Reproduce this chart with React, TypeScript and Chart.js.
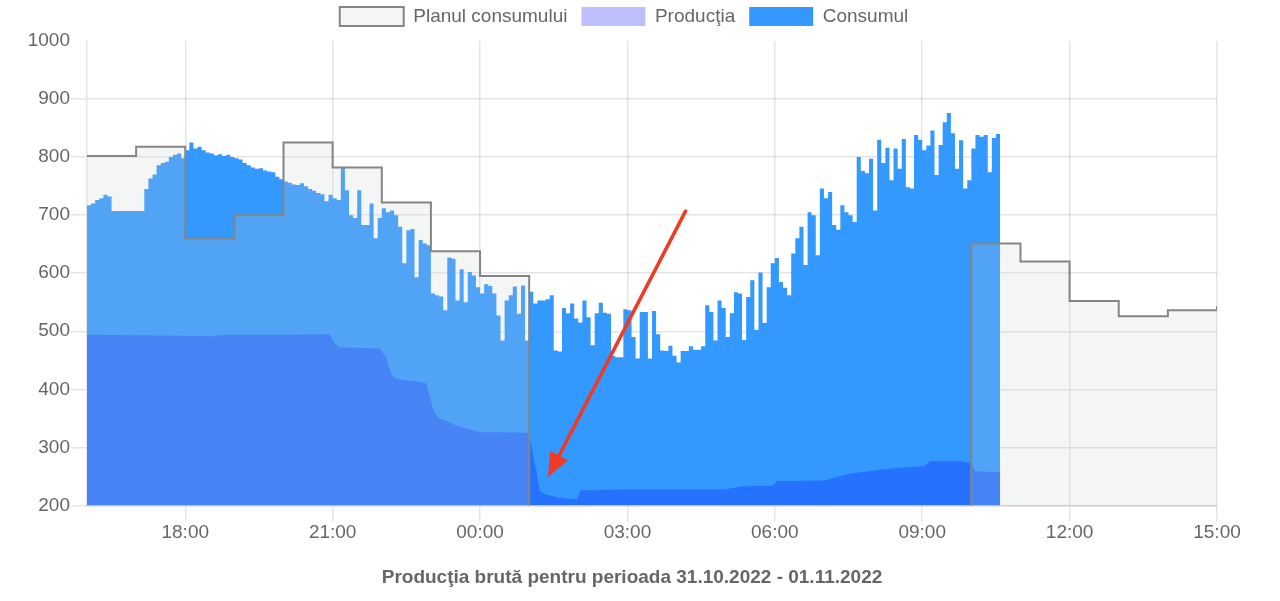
import { useEffect, useRef } from "react";
import { Chart, registerables } from "chart.js";

Chart.register(...registerables);

// Time axis: minutes elapsed since 31.10.2022 16:00
const START_HOUR = 16;
const AXIS_END_MIN = 1380; // 01.11.2022 15:00
const CONS_STEP_MIN = 5;

// Consumption, one value per 5 minutes starting at 16:00
const consumption = [
  717, 720, 726, 729, 735, 732, 707, 707, 707, 707, 707, 707, 707, 707, 745, 763, 770, 786, 790, 792, 800, 804, 806, 798,
  812, 825, 815, 818, 812, 808, 806, 803, 805, 802, 804, 800, 798, 796, 790, 786, 782, 780, 781, 777, 775, 774, 766, 762,
  758, 756, 753, 752, 755, 750, 745, 742, 738, 736, 724, 735,
  729, 726, 783, 743, 700, 695, 743, 683, 683, 720, 660, 695, 712, 705, 708, 700, 680, 617, 674, 676,
  593, 657, 651, 648, 565, 562, 560, 536, 627, 625, 553, 607, 550, 602, 596, 576, 565, 581, 578, 565,
  527, 484, 553, 562, 577, 530, 579, 484,
  568, 548, 553, 553, 555, 562, 467, 465, 540, 531, 548, 522, 515, 553, 524, 476, 531, 549, 532, 530,
  458, 455, 455, 538, 536, 490, 453, 533, 533, 453, 535, 495, 467, 466, 475, 458, 446, 466, 466, 474,
  468, 468, 474, 545, 533, 484, 553, 540, 490, 531, 567, 565, 485, 559, 588, 502, 601, 514, 576, 617,
  626, 585, 575, 562, 634, 660, 680, 614, 705, 700, 631, 746, 729, 740, 683, 675, 717, 705, 700, 688,
  800, 776, 772, 797, 708, 830, 790, 816, 760, 815, 780, 831, 748, 746, 838, 830, 812, 820, 846, 769,
  821, 860, 876, 841, 780, 829, 746, 760, 815, 838, 835, 838, 774, 833, 840, 745,
];

// Hourly consumption plan from 16:00 to 15:00 (0 = no plan)
const planValues = [
  802, 818, 660, 700, 825, 782, 722, 638, 595, 0, 0, 0, 0, 0, 0, 0, 0, 0, 651, 620, 552, 526, 536, 543,
];

// Gross production (minutes since 16:00, value)
const prodTimes = [
  0, 60, 138, 150, 170, 240, 296, 302, 308, 340, 358, 365, 372, 378, 400, 414, 418, 424, 430, 440,
  450, 470, 480, 510, 539, 543, 548, 553, 560, 575, 598, 603, 670, 780, 800, 838, 843, 900, 932, 990,
  1022, 1030, 1069, 1079, 1085, 1115,
];
const prodValues = [
  494, 493, 492, 491, 494, 494, 495, 480, 472, 471, 470, 455, 425, 418, 414, 411, 390, 360, 350, 345,
  338, 330, 326, 326, 325, 300, 265, 225, 219, 214, 210, 226, 228, 228, 233, 234, 242, 243, 255, 265,
  268, 276, 276, 273, 259, 257,
];

// x tick positions (minutes since 16:00): 18:00, 21:00, ... 15:00
const xTickValues = [120, 300, 480, 660, 840, 1020, 1200, 1380];

// Annotation arrow (data coordinates: minutes, value)
const arrowFrom = { t: 731, v: 707 };
const arrowTo = { t: 563, v: 249 };

const FONT = "'Liberation Sans', Arial, Helvetica, sans-serif";
const TEXT = "#666";
const GRID = "rgba(0,0,0,0.1)";

const arrowPlugin = {
  id: "redArrow",
  afterDatasetsDraw(chart: any) {
    const { ctx } = chart;
    const xs = chart.scales.x;
    const ys = chart.scales.y;
    const x1 = xs.getPixelForValue(arrowFrom.t);
    const y1 = ys.getPixelForValue(arrowFrom.v);
    const x2 = xs.getPixelForValue(arrowTo.t);
    const y2 = ys.getPixelForValue(arrowTo.v);
    const ang = Math.atan2(y2 - y1, x2 - x1);
    const headLen = 24;
    const headW = 10;
    const bx = x2 - headLen * Math.cos(ang);
    const by = y2 - headLen * Math.sin(ang);
    ctx.save();
    ctx.strokeStyle = "#ef3a24";
    ctx.fillStyle = "#ef3a24";
    ctx.lineWidth = 3.5;
    ctx.lineCap = "round";
    ctx.beginPath();
    ctx.moveTo(x1, y1);
    ctx.lineTo(bx, by);
    ctx.stroke();
    ctx.beginPath();
    ctx.moveTo(x2, y2);
    ctx.lineTo(bx + headW * Math.sin(ang), by - headW * Math.cos(ang));
    ctx.lineTo(bx - headW * Math.sin(ang), by + headW * Math.cos(ang));
    ctx.closePath();
    ctx.fill();
    ctx.restore();
  },
};

const legendSpacer = {
  id: "legendSpacer",
  beforeInit(chart: any) {
    const legend = chart.legend;
    if (!legend) return;
    const orig = legend.fit;
    legend.fit = function () {
      orig.call(this);
      this.height += 5;
    };
  },
  afterLayout(chart: any) {
    // centre the title and legend like the original page
    if (chart.titleBlock) chart.titleBlock.left = 47;
    if (chart.legend) chart.legend.left = 31;
  },
};

export default function App() {
  const ref = useRef<HTMLCanvasElement | null>(null);

  useEffect(() => {
    if (!ref.current) return;
    const consData = consumption.map((v, i) => ({ x: i * CONS_STEP_MIN, y: v }));
    const planData = planValues.map((v, i) => ({ x: i * 60, y: v }));
    const prodData = prodTimes.map((t, i) => ({ x: t, y: prodValues[i] }));

    const chart = new Chart(ref.current, {
      type: "line",
      data: {
        datasets: [
          {
            label: "Planul consumului",
            data: planData,
            stepped: true,
            borderColor: "#858585",
            borderWidth: 2,
            backgroundColor: "rgba(201,203,207,0.2)",
            fill: "origin",
            pointRadius: 0,
          },
          {
            label: "Producţia",
            data: prodData,
            borderWidth: 0,
            borderColor: "rgba(0,0,255,0.25)",
            backgroundColor: "rgba(0,0,255,0.25)",
            fill: "origin",
            pointRadius: 0,
            tension: 0,
          },
          {
            label: "Consumul",
            data: consData,
            stepped: true,
            borderWidth: 0,
            borderColor: "#3399ff",
            backgroundColor: "#3399ff",
            fill: "origin",
            pointRadius: 0,
          },
        ],
      },
      options: {
        animation: false,
        responsive: false,
        devicePixelRatio: 1,
        layout: { padding: { left: 0, right: 63, top: -7, bottom: 0 } },
        plugins: {
          legend: {
            position: "top",
            labels: {
              boxWidth: 64,
              boxHeight: 19,
              padding: 14,
              color: TEXT,
              font: { size: 19, family: FONT },
            },
          },
          title: {
            display: true,
            position: "bottom",
            text: "Producţia brută pentru perioada 31.10.2022 - 01.11.2022",
            color: TEXT,
            font: { size: 19, weight: "bold", family: FONT },
            padding: { top: 22, bottom: 12 },
          },
          tooltip: { enabled: false },
        },
        scales: {
          x: {
            type: "linear",
            min: 0,
            max: AXIS_END_MIN,
            afterBuildTicks: (axis: any) => {
              axis.ticks = xTickValues.map((v) => ({ value: v }));
            },
            ticks: {
              autoSkip: false,
              maxRotation: 0,
              padding: 0,
              color: TEXT,
              font: { size: 19, family: FONT },
              callback: (v: any) => {
                const h = (START_HOUR + Math.round(Number(v) / 60)) % 24;
                return String(h).padStart(2, "0") + ":00";
              },
            },
            grid: { color: GRID, lineWidth: 1.5, tickLength: 16 },
            border: { color: GRID, width: 1.5 },
          },
          y: {
            min: 200,
            max: 1000,
            afterFit: (s: any) => {
              s.width = 87;
            },
            ticks: {
              stepSize: 100,
              padding: 1,
              color: TEXT,
              font: { size: 19, family: FONT },
              callback: (v: any) => String(v),
            },
            grid: {
              color: (c: any) => (c.tick && c.tick.value === 1000 ? "rgba(0,0,0,0)" : GRID),
              lineWidth: 1.5,
              tickLength: 16,
            },
            border: { color: GRID, width: 1.5 },
          },
        },
      },
      plugins: [arrowPlugin, legendSpacer],
    } as any);

    return () => chart.destroy();
  }, []);

  return (
    <div style={{ position: "fixed", left: 0, top: 0, width: 1280, height: 601, background: "#fff" }}>
      <canvas ref={ref} width={1280} height={601} style={{ display: "block", width: 1280, height: 601 }} />
    </div>
  );
}
